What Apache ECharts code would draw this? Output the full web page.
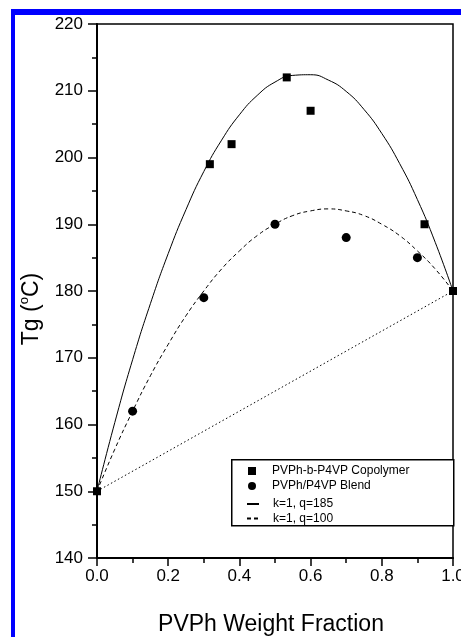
<!DOCTYPE html>
<html>
<head>
<meta charset="utf-8">
<script src="https://cdn.jsdelivr.net/npm/echarts@6/dist/echarts.min.js"></script>
<style>
  html, body { margin: 0; padding: 0; background: #fff; }
  #chart { width: 461px; height: 637px; }
</style>
</head>
<body>
<div id="chart"></div>
<script>
// measured points
const copolymer = [[0, 150], [0.317, 199], [0.378, 202], [0.533, 212], [0.60, 207], [0.92, 190], [1.0, 180]]
const blend = [[0.1, 162], [0.3, 179], [0.5, 190], [0.7, 188], [0.9, 185]]
// fitted curves
const curveX = [0, 0.05, 0.1, 0.15, 0.2, 0.25, 0.3, 0.35, 0.4, 0.45, 0.5, 0.55, 0.6, 0.65, 0.7, 0.75, 0.8, 0.85, 0.9, 0.95, 1.0]
const q185 = [150, 160.3, 169.7, 178.1, 185.6, 192.2, 197.9, 202.6, 206.4, 209.3, 211.3, 212.3, 212.4, 211.6, 209.9, 207.2, 203.6, 199.1, 193.7, 187.3, 180]
const q100 = [150, 156.3, 162, 167.3, 172, 176.3, 180, 183.3, 186, 188.3, 190, 191.3, 192, 192.3, 192, 191.3, 190, 188.3, 186, 183.3, 180]
const linear = [[0, 150], [1, 180]]

const font = 'Liberation Sans, Arial, sans-serif'
const chart = echarts.init(document.getElementById('chart'))

const pair = (ys) => curveX.map((x, i) => [x, ys[i]])

chart.setOption({
  animation: false,
  backgroundColor: '#fff',
  grid: {
    left: 97, top: 24, right: 8, bottom: 79,
    outerBoundsMode: 'none', containLabel: false,
    show: true, borderColor: '#000', borderWidth: 1.5
  },
  xAxis: {
    type: 'value', min: 0, max: 1, interval: 0.2,
    name: 'PVPh Weight Fraction', nameLocation: 'middle', nameGap: 55,
    nameTextStyle: { fontSize: 23, fontFamily: font, color: '#000', padding: [0, 8, 0, 0] },
    axisLine: { lineStyle: { color: '#000', width: 2 } },
    axisTick: { length: 8, lineStyle: { color: '#000', width: 1.5 } },
    minorTick: { show: true, splitNumber: 2, length: 5, lineStyle: { color: '#000', width: 1.5 } },
    splitLine: { show: false },
    axisLabel: { fontSize: 17, fontFamily: font, color: '#000', margin: 10, formatter: v => v.toFixed(1) }
  },
  yAxis: {
    type: 'value', min: 140, max: 220, interval: 10,
    name: 'Tg ({s|o}C)', nameLocation: 'middle', nameRotate: 90, nameGap: 52,
    nameTextStyle: {
      fontSize: 23, fontFamily: font, color: '#000', padding: [0, 36, 0, 0],
      rich: { s: { fontSize: 13, fontFamily: font, color: '#000', padding: [0, 0, 14, 0] } }
    },
    axisLine: { show: true, lineStyle: { color: '#000', width: 2 } },
    axisTick: { length: 9, lineStyle: { color: '#000', width: 1.5 } },
    minorTick: { show: true, splitNumber: 2, length: 5, lineStyle: { color: '#000', width: 1.5 } },
    splitLine: { show: false },
    axisLabel: { fontSize: 17, fontFamily: font, color: '#000', margin: 14 }
  },
  legend: [
    {
      orient: 'vertical', left: 248, top: 465, padding: 0, itemWidth: 8, itemHeight: 8, itemGap: 3, z: 10,
      data: [{ name: 'PVPh-b-P4VP Copolymer', icon: 'rect' }, { name: 'PVPh/P4VP Blend', icon: 'circle' }],
      textStyle: { fontSize: 12, fontFamily: font, color: '#000', padding: [0, 0, 0, 11] }
    },
    {
      orient: 'vertical', left: 246, top: 498, padding: 0, itemWidth: 12, itemHeight: 10, itemGap: 2.5, z: 10,
      data: ['k=1, q=185', 'k=1, q=100'],
      itemStyle: { color: 'transparent', borderWidth: 0, opacity: 0 },
      textStyle: { fontSize: 12, fontFamily: font, color: '#000', padding: [0, 0, 0, 9] }
    }
  ],
  graphic: [
    { type: 'rect', left: 11, top: 9, z: 20, shape: { width: 4, height: 628 }, style: { fill: '#0000ff' } },
    { type: 'rect', left: 11, top: 9, z: 20, shape: { width: 450, height: 6 }, style: { fill: '#0000ff' } },
    { type: 'rect', left: 231, top: 459, z: 5, shape: { width: 222, height: 66 }, style: { fill: '#fff', stroke: '#000', lineWidth: 1.5 } }
  ],
  series: [
    {
      name: 'k=1, q=185', type: 'line', data: pair(q185), smooth: true, symbol: 'none', z: 2,
      color: '#000', lineStyle: { color: '#000', width: 1 }
    },
    {
      name: 'k=1, q=100', type: 'line', data: pair(q100), smooth: true, symbol: 'none', z: 2,
      color: '#000', lineStyle: { color: '#000', width: 1, type: [4, 3] }
    },
    {
      name: 'linear', type: 'line', data: linear, symbol: 'none', z: 2,
      color: '#000', lineStyle: { color: '#000', width: 1, type: [1.5, 2.5] }
    },
    {
      name: 'PVPh-b-P4VP Copolymer', type: 'scatter', data: copolymer, symbol: 'rect', symbolSize: 8, z: 3,
      color: '#000', itemStyle: { color: '#000', opacity: 1 }
    },
    {
      name: 'PVPh/P4VP Blend', type: 'scatter', data: blend, symbol: 'circle', symbolSize: 9, z: 3,
      color: '#000', itemStyle: { color: '#000', opacity: 1 }
    }
  ]
})
</script>
</body>
</html>
